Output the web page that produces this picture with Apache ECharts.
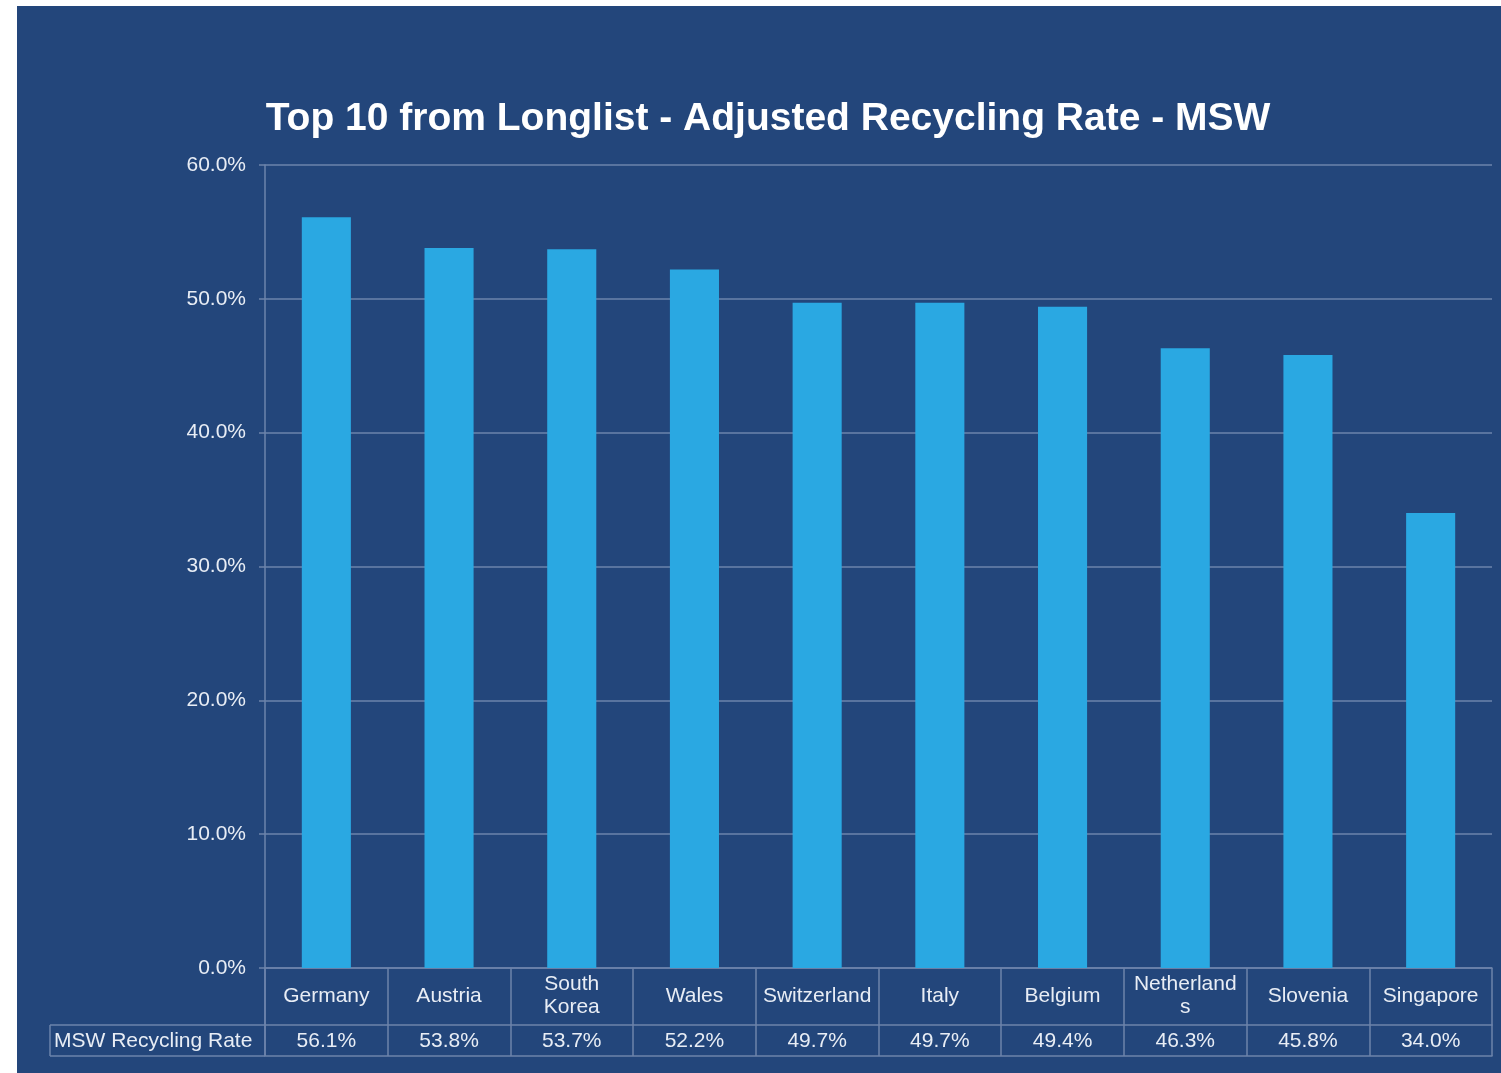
<!DOCTYPE html>
<html>
<head>
<meta charset="utf-8">
<script src="https://cdn.jsdelivr.net/npm/echarts@6/dist/echarts.min.js"></script>
<style>
html,body{margin:0;padding:0;background:#ffffff;}
#frame{position:absolute;left:17px;top:6px;width:1484px;height:1067px;background:#23467b;}
#chart{position:absolute;left:0;top:0;width:1501px;height:1073px;}
</style>
</head>
<body>
<div id="frame"></div>
<div id="chart"></div>
<script>
const titleText = 'Top 10 from Longlist - Adjusted Recycling Rate - MSW';
const categories = ['Germany','Austria','South Korea','Wales','Switzerland','Italy','Belgium','Netherlands','Slovenia','Singapore'];
const categoryLabels = ['Germany','Austria','South\nKorea','Wales','Switzerland','Italy','Belgium','Netherland\ns','Slovenia','Singapore'];
const seriesName = 'MSW Recycling Rate';
const recyclingRate = [56.1, 53.8, 53.7, 52.2, 49.7, 49.7, 49.4, 46.3, 45.8, 34.0];
const yTicks = [0, 10, 20, 30, 40, 50, 60];

const lineColor = '#6d84ab';
const textColor = '#e8edf5';
const font = '"Liberation Sans", Arial, sans-serif';

const chart = echarts.init(document.getElementById('chart'), null, {renderer: 'canvas'});
chart.setOption({
  backgroundColor: 'transparent',
  animation: false,
  title: {
    text: titleText,
    left: 763, top: 95,
    textAlign: 'center',
    textStyle: {color: '#ffffff', fontSize: 39, fontWeight: 'bold', fontFamily: font}
  },
  grid: {left: 265, right: 9, top: 165, bottom: 105, containLabel: false},
  xAxis: [
    {
      type: 'category', data: categories, position: 'bottom',
      axisLine: {show: true, lineStyle: {color: lineColor, width: 1.5}},
      axisTick: {show: true, length: 57, alignWithLabel: false, lineStyle: {color: lineColor, width: 1.5}},
      axisLabel: {
        margin: 28, verticalAlign: 'middle', color: textColor, fontSize: 21,
        fontFamily: font, lineHeight: 23, interval: 0,
        formatter: (v, i) => categoryLabels[i]
      }
    },
    {
      type: 'category', data: categories, position: 'bottom', offset: 57,
      axisLine: {show: true, lineStyle: {color: lineColor, width: 1.5}},
      axisTick: {show: true, length: 31, lineStyle: {color: lineColor, width: 1.5}},
      axisLabel: {
        margin: 16, verticalAlign: 'middle', color: textColor, fontSize: 21,
        fontFamily: font, interval: 0,
        formatter: (v, i) => recyclingRate[i].toFixed(1) + '%'
      }
    },
    {
      type: 'category', data: categories, position: 'bottom', offset: 88,
      axisLine: {show: true, lineStyle: {color: lineColor, width: 1.5}},
      axisTick: {show: false}, axisLabel: {show: false}
    }
  ],
  yAxis: {
    type: 'value', min: yTicks[0], max: yTicks[yTicks.length - 1], interval: 10,
    axisLine: {show: true, lineStyle: {color: lineColor, width: 1.5}},
    axisTick: {show: true, length: 6, lineStyle: {color: lineColor, width: 1.5}},
    splitLine: {show: true, lineStyle: {color: lineColor, width: 1.5}},
    axisLabel: {
      margin: 19, color: textColor, fontSize: 21, fontFamily: font,
      formatter: v => v.toFixed(1) + '%'
    }
  },
  series: [{
    name: seriesName, type: 'bar', xAxisIndex: 0, data: recyclingRate,
    barWidth: '40%', itemStyle: {color: '#2aa8e2'}
  }],
  graphic: [
    {type: 'line', shape: {x1: 50, y1: 1025, x2: 265, y2: 1025}, style: {stroke: lineColor, lineWidth: 1.5}},
    {type: 'line', shape: {x1: 50, y1: 1056, x2: 265, y2: 1056}, style: {stroke: lineColor, lineWidth: 1.5}},
    {type: 'line', shape: {x1: 50, y1: 1025, x2: 50, y2: 1056}, style: {stroke: lineColor, lineWidth: 1.5}},
    {type: 'line', shape: {x1: 265, y1: 968, x2: 265, y2: 1056}, style: {stroke: lineColor, lineWidth: 1.5}},
    {type: 'text', x: 54, y: 1041, style: {text: seriesName, fill: textColor, fontSize: 21, fontFamily: font, verticalAlign: 'middle'}}
  ]
});
</script>
</body>
</html>
